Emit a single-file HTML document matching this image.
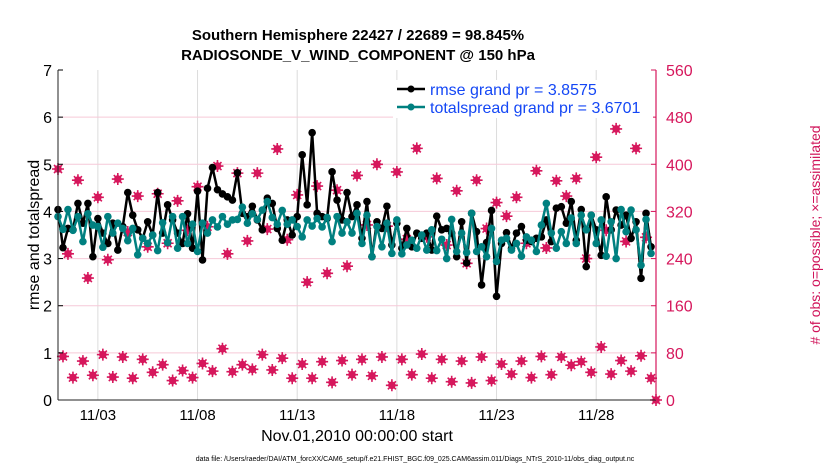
<!DOCTYPE html>
<html><head><meta charset="utf-8"><style>
html,body{margin:0;padding:0;background:#fff;}
svg{display:block;font-family:"Liberation Sans",Arial,sans-serif;}
</style></head><body>
<svg id="chart" width="830" height="470" viewBox="0 0 830 470">
<text x="358" y="40" text-anchor="middle" font-size="15" font-weight="bold">Southern Hemisphere 22427 / 22689 = 98.845%</text>
<text x="358" y="60" text-anchor="middle" font-size="15" font-weight="bold">RADIOSONDE_V_WIND_COMPONENT @ 150 hPa</text>
<g id="grid"></g>
<g id="marks"></g>
<g id="axes"></g>
<g>
<rect x="393" y="80" width="260" height="38" fill="#fff"/>
<g>
<line x1="397" y1="89" x2="425" y2="89" stroke="#000" stroke-width="2.5"/><circle cx="411" cy="89" r="3.5" fill="#000"/>
<text x="430" y="95" font-size="16" fill="#1447f5">rmse grand pr = 3.8575</text></g>
<g>
<line x1="397" y1="107" x2="425" y2="107" stroke="#008080" stroke-width="2.5"/><circle cx="411" cy="107" r="3.5" fill="#008080"/>
<text x="430" y="113" font-size="16" fill="#1447f5">totalspread grand pr = 3.6701</text></g>
</g>
<text transform="translate(39,235) rotate(-90)" text-anchor="middle" font-size="16">rmse and totalspread</text>
<text transform="translate(820,235) rotate(-90)" text-anchor="middle" font-size="14" fill="#d0145a"># of obs: o=possible; ×=assimilated</text>
<text x="357" y="441" text-anchor="middle" font-size="16">Nov.01,2010 00:00:00 start</text>
<text x="415" y="461" text-anchor="middle" font-size="7">data file: /Users/raeder/DAI/ATM_forcXX/CAM6_setup/f.e21.FHIST_BGC.f09_025.CAM6assim.011/Diags_NTrS_2010-11/obs_diag_output.nc</text>
</svg>
<script>
const rmse = [4.04,3.23,3.64,3.61,4.17,3.75,4.17,3.04,3.85,3.54,3.32,3.75,3.18,3.68,4.40,3.92,3.61,3.43,3.78,3.50,4.40,3.54,4.14,3.82,3.54,3.32,3.95,3.22,4.43,2.97,4.49,
4.93,4.46,4.37,4.31,4.24,4.82,3.96,3.89,4.11,3.82,3.61,4.28,4.17,3.64,3.39,3.82,3.50,3.89,5.20,4.14,5.67,3.96,3.89,3.85,4.84,4.24,3.82,4.40,3.89,
4.14,3.43,4.21,3.04,3.78,3.64,4.11,3.29,3.75,3.22,3.64,3.25,3.54,3.43,3.54,3.18,3.90,3.61,3.64,3.54,3.04,3.78,2.91,3.96,3.57,2.44,3.34,4.02,2.20,3.32,
3.55,3.22,3.54,3.68,3.39,3.36,3.43,3.46,3.82,3.36,4.07,4.10,3.75,4.21,3.39,4.04,2.83,3.92,3.61,3.07,4.31,3.61,4.03,3.71,3.92,3.43,3.78,2.58,3.96,3.25];
const spread = [3.89,3.62,4.04,3.60,3.89,3.36,3.95,3.71,3.68,3.24,3.89,3.54,3.75,3.64,3.38,3.64,3.08,3.43,3.32,3.50,3.17,3.76,3.34,3.89,3.22,3.89,3.32,3.73,3.15,3.75,3.54,
3.82,3.67,3.89,3.73,3.82,3.83,4.09,3.75,3.95,3.83,4.03,4.21,3.87,3.73,4.02,3.73,3.82,3.68,3.46,3.82,3.69,3.85,3.67,3.87,3.36,3.89,3.54,3.78,3.54,
3.96,3.32,3.92,3.04,3.68,3.25,3.75,3.11,3.82,3.10,3.29,3.39,3.22,3.50,3.18,3.61,3.17,3.41,3.00,3.83,3.15,3.54,3.13,3.96,3.15,3.25,3.04,3.64,2.94,3.39,
3.43,3.18,3.32,3.05,3.46,3.39,3.15,3.71,4.17,3.54,3.22,3.57,3.32,3.86,3.32,3.92,3.61,3.92,3.32,3.82,3.05,3.78,3.00,4.04,3.57,4.03,3.61,2.86,3.83,3.11];
const countsMain = [392,248,373,207,344,238,375,285,346,260,350,266,338,288,362,294,397,248,385,270,385,290,426,272,348,200,363,215,356,227,
381,297,400,295,387,273,427,277,376,263,355,232,373,291,335,312,344,266,389,258,372,346,376,240,412,288,460,269,427,276];
const countsOff = [74,38,66,42,77,39,73,37,69,47,60,33,50,38,62,49,87,48,60,52,77,51,71,37,61,37,65,30,67,43,
69,41,73,25,69,43,78,37,69,31,66,29,73,33,61,44,66,38,74,43,73,59,65,47,90,44,67,49,75,37];
const yTicks = [0,1,2,3,4,5,6,7];
const y2Ticks = [0,80,160,240,320,400,480,560];
const xTickDays = [2,7,12,17,22,27];
const xTickLabels = ["11/03","11/08","11/13","11/18","11/23","11/28"];

const NS="http://www.w3.org/2000/svg";
const X0=58,X1=656,Y0=400,Y1=70;
const xDay=d=>X0+(X1-X0)*d/30;
const xBin=k=>xDay(k*0.25);
const yL=v=>Y0-(Y0-Y1)*v/7;
const yR=v=>Y0-(Y0-Y1)*v/560;
function mk(tag,attrs,parent){const e=document.createElementNS(NS,tag);for(const k in attrs)e.setAttribute(k,attrs[k]);parent.appendChild(e);return e;}
const grid=document.getElementById('grid'),marks=document.getElementById('marks'),axes=document.getElementById('axes');
const RED="#d6175c";
mk('rect',{x:X0,y:Y1,width:X1-X0,height:Y0-Y1,fill:'#fff'},grid);
xTickDays.forEach((d,i)=>{
 const l=mk('line',{x1:xDay(d),x2:xDay(d),y1:Y1,y2:Y0,stroke:'#dcdcdc','stroke-width':1},grid);
 
 
 const t=mk('text',{x:xDay(d),y:Y0+20,'text-anchor':'middle','font-size':15},axes);
 t.textContent=xTickLabels[i];
 
 
});
y2Ticks.forEach(v=>{
 if(v>0&&v<560){const l=mk('line',{x1:X0,x2:X1,y1:yR(v),y2:yR(v),stroke:'#f6c9d8','stroke-width':1},grid);
 
 }
 const t=mk('text',{x:X1+10,y:yR(v)+6,'font-size':16,fill:RED},axes);
 t.textContent=v;
 
 
 mk('line',{x1:X1-5,x2:X1,y1:yR(v),y2:yR(v),stroke:RED,'stroke-width':1},axes);
});
yTicks.forEach(v=>{
 const t=mk('text',{x:X0-6,y:yL(v)+6,'text-anchor':'end','font-size':16},axes);
 t.textContent=v;
 
 
 mk('line',{x1:X0,x2:X0+5,y1:yL(v),y2:yL(v),stroke:'#000','stroke-width':1},axes);
});
mk('line',{x1:X0,x2:X0,y1:Y1,y2:Y0,stroke:'#222','stroke-width':1},axes);
mk('line',{x1:X0,x2:X1,y1:Y0,y2:Y0,stroke:'#222','stroke-width':1},axes);
mk('line',{x1:X1,x2:X1,y1:Y1,y2:Y0,stroke:RED,'stroke-width':1.2},axes);

function star(cx,cy){
 const g=mk('g',{},marks);
 
 
 mk('circle',{cx:cx,cy:cy,r:3.8,fill:RED},g);
 mk('path',{d:`M${cx-6} ${cy}H${cx+6}M${cx} ${cy-6}V${cy+6}M${cx-4} ${cy-4}L${cx+4} ${cy+4}M${cx-4} ${cy+4}L${cx+4} ${cy-4}`,stroke:RED,'stroke-width':1.6},g);
}
countsMain.forEach((v,j)=>star(xBin(2*j),yR(v)));
countsOff.forEach((v,j)=>star(xBin(2*j+1),yR(v)));
star(xBin(120),yR(0));

function series(vals,color,name){
 const p=mk('polyline',{points:vals.map((v,k)=>xBin(k)+','+yL(v)).join(' '),fill:'none',stroke:color,'stroke-width':2.5,'stroke-linejoin':'round'},marks);
 
 
 vals.forEach((v,k)=>{
  const c=mk('circle',{cx:xBin(k),cy:yL(v),r:3.8,fill:color},marks);
  
  
 });
}
series(rmse,'#000','rmse');
series(spread,'#008080','totalspread');
</script>
</body></html>
